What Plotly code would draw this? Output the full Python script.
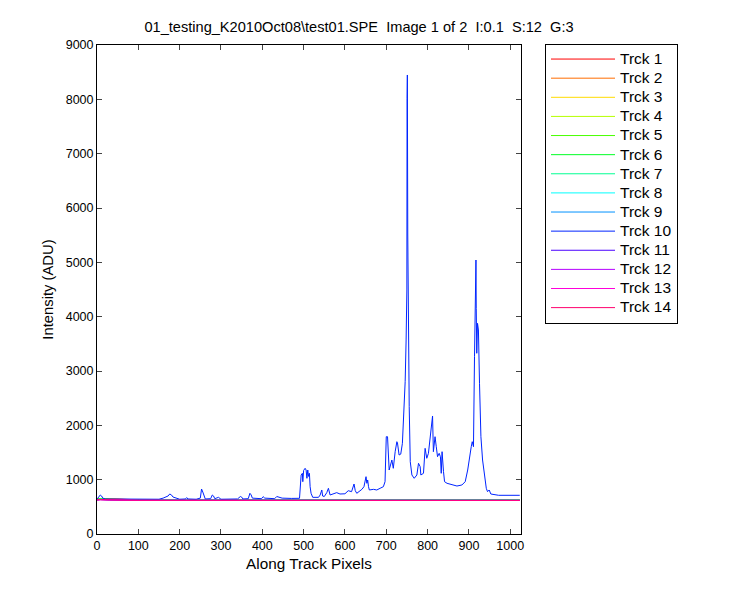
import plotly.graph_objects as go
import colorsys

# ---- data ----
track_names = [f"Trck {i}" for i in range(1, 15)]

# Track 10 (the only track with a spectrum); vertices
t10_x = [0, 4, 8, 11, 14, 20, 60, 150, 160, 172, 176, 180, 184, 200, 214, 217, 220, 240,
         250, 253, 256, 259, 262, 275, 279, 282, 285, 294, 297, 300, 340, 347, 350, 353,
         366, 370, 373, 376, 398, 402, 406, 430, 435, 438, 448, 470, 490,
         494, 497, 498, 500, 503.6, 506, 508, 510, 512, 514, 515.7, 518, 522, 536, 540,
         544, 546, 550, 556, 560, 564, 570, 580, 588, 600, 608, 616, 622, 625, 628.6,
         635, 641, 646, 651, 653, 655, 657, 659, 669, 677, 685, 693, 697, 700, 703,
         707, 713.5, 717, 721.5, 725.6, 727, 731, 735, 739, 741.7, 744, 745.7, 748,
         749.8, 750.3, 751, 752, 753.5, 755.5, 758, 762, 767.6, 774, 778, 782, 783.7,
         790, 794, 798, 802, 806, 810, 812, 814, 818, 821, 824, 828, 831, 833, 835,
         838.5, 841, 847, 859, 871, 883, 891, 897, 900.7, 905.6, 908, 911, 913.5, 916,
         917, 917.7, 919, 920.8, 923, 925.6, 929, 933, 938, 942, 945, 949, 953, 972, 1023]
t10_y = [640, 690, 718, 700, 660, 645, 640, 640, 660, 700, 736, 720, 680, 640, 645, 670,
         645, 640, 660, 828, 773, 680, 645, 650, 718, 700, 650, 675, 650, 640, 645, 690,
         680, 645, 650, 749, 720, 660, 650, 687, 660, 650, 690, 680, 660, 655, 657,
         1086, 1117, 963, 1170, 1209, 1178, 1025, 1178, 1060, 1117, 871, 749, 675, 675, 718,
         810, 699, 690, 761, 841, 718, 736, 761, 736, 740, 797, 779, 920, 797, 749,
         779, 822, 871, 1055, 933, 994, 871, 810, 822, 810, 841, 871, 963, 1791, 1791,
         1178, 1362, 1209, 1515, 1699, 1680, 1454, 1470, 1669, 2037, 2466, 2803, 3571,
         4491, 8019, 8448, 5503, 3800, 2343, 1331, 1086, 1025, 1086, 1301, 1239, 1086,
         1117, 1577, 1393, 1485, 1730, 2067, 2172, 1515, 1791, 1607, 1423, 1485, 1423,
         1117, 1515, 1147, 963, 933, 902, 883, 902, 963, 1178, 1393, 1607, 1699, 1607,
         3263, 4700, 5043, 4154, 3326, 3878, 3755, 2774, 1791, 1362, 1025, 841, 779,
         810, 736, 712, 712]

# Flat background tracks (all other tracks), vertices
flat_x = [0, 8, 30, 60, 100, 1023]
flat_y = {
    1: [645, 650, 648, 640, 630, 628],
    2: [642, 648, 645, 638, 628, 627],
    3: [640, 645, 642, 636, 627, 626],
    4: [640, 648, 640, 634, 626, 625],
    5: [638, 650, 638, 632, 625, 624],
    6: [636, 645, 636, 630, 624, 623],
    7: [634, 640, 634, 628, 623, 622],
    8: [632, 638, 632, 627, 622, 621],
    9: [630, 636, 630, 626, 621, 620],
    11: [628, 634, 628, 625, 620, 619],
    12: [627, 632, 627, 624, 619, 618],
    13: [626, 630, 626, 623, 618, 617],
    14: [628, 632, 628, 625, 622, 620],
}

title_text = "01_testing_K2010Oct08\\test01.SPE  Image 1 of 2  I:0.1  S:12  G:3"
x_ticks = [0, 100, 200, 300, 400, 500, 600, 700, 800, 900, 1000]
y_ticks = [0, 1000, 2000, 3000, 4000, 5000, 6000, 7000, 8000, 9000]


def hsv_color(i, n):
    r, g, b = colorsys.hsv_to_rgb(i / n, 1, 1)
    return f"rgb({int(round(r*255))},{int(round(g*255))},{int(round(b*255))})"


fig = go.Figure()
for k in range(1, 15):
    if k == 10:
        xs, ys = t10_x, t10_y
    else:
        xs, ys = flat_x, flat_y[k]
    label = f'<span style="font-size:15.5px">{track_names[k-1]}</span>'
    fig.add_trace(go.Scatter(x=xs, y=ys, mode="lines", name=label,
                             line=dict(color=hsv_color(k-1, 14), width=1)))

font = "Liberation Sans, Arial, Helvetica, sans-serif"
W, H = 742, 592
fig.update_layout(
    width=W, height=H,
    paper_bgcolor="white", plot_bgcolor="white",
    margin=dict(l=89, r=229, t=37, b=66),
    font=dict(family=font, size=13, color="black"),
    title=dict(text=title_text, x=351/W, xanchor="center", y=1 - 19/H, yanchor="middle",
               font=dict(size=14.6, family=font)),
    showlegend=True,
    legend=dict(x=1 + 24/424, xanchor="left", y=1 + 1.5/489, yanchor="top",
                bordercolor="black", borderwidth=1, bgcolor="white",
                font=dict(size=12.4, family=font), itemwidth=64,
                entrywidth=62, tracegroupgap=0),
)
fig.update_xaxes(range=[0, 1026], tickvals=x_ticks, ticks="inside", ticklen=5,
                 showline=True, linecolor="black", linewidth=1, mirror="ticks",
                 showgrid=False, zeroline=False, tickfont=dict(size=12.5),
                 title=dict(text="Along Track Pixels", font=dict(size=15.3), standoff=6))
fig.update_yaxes(range=[0, 9000], tickvals=y_ticks, ticks="inside", ticklen=5,
                 showline=True, linecolor="black", linewidth=1, mirror="ticks",
                 showgrid=False, zeroline=False, tickfont=dict(size=12.5),
                 title=dict(text="Intensity (ADU)", font=dict(size=14.8), standoff=8))

fig.write_html("out.html")
